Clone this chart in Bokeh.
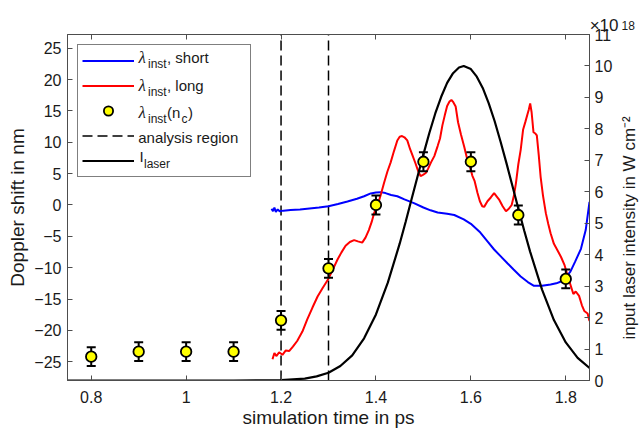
import math
from bokeh.plotting import figure
from bokeh.layouts import row
from bokeh.core.properties import value
from bokeh.models import (Range1d, LinearAxis, FixedTicker, Legend, LegendItem, Title,
                          NumeralTickFormatter, CustomJSTickFormatter)
from bokeh.embed import file_html
from bokeh.resources import INLINE

# ---------------- data ----------------
# lambda_inst, short (Doppler shift in nm)
t_short = [1.180, 1.183, 1.186, 1.189, 1.193, 1.197, 1.205, 1.220, 1.240, 1.260,
           1.280, 1.300, 1.320, 1.340, 1.360, 1.375, 1.389, 1.400, 1.410, 1.420,
           1.432, 1.445, 1.460, 1.480, 1.500, 1.515, 1.530, 1.550, 1.565, 1.585,
           1.600, 1.620, 1.635, 1.649, 1.663, 1.677, 1.690, 1.705, 1.720, 1.733,
           1.750, 1.768, 1.780, 1.790, 1.800, 1.810, 1.820, 1.832, 1.842, 1.850]
shift_short = [-0.6, -1.0, -0.4, -1.1, -0.7, -1.0, -0.9, -0.8, -0.7, -0.55,
               -0.4, -0.2, 0.15, 0.55, 1.0, 1.4, 1.85, 2.0, 2.05, 1.9,
               1.6, 1.4, 0.9, 0.3, -0.4, -0.85, -1.2, -1.4, -1.6, -2.3,
               -3.0, -4.4, -5.8, -7.1, -8.2, -9.3, -10.3, -11.4, -12.3, -12.9,
               -12.9, -12.7, -12.5, -12.2, -11.6, -10.6, -9.0, -7.0, -4.0, 0.5]

# lambda_inst, long (Doppler shift in nm)
t_long = [1.182, 1.186, 1.190, 1.196, 1.203, 1.210, 1.217, 1.225, 1.234, 1.245,
          1.255, 1.266, 1.277, 1.288, 1.299, 1.309, 1.319, 1.327, 1.336, 1.345,
          1.354, 1.362, 1.371, 1.378, 1.385, 1.391, 1.396, 1.403, 1.410, 1.417,
          1.424, 1.431, 1.438, 1.445, 1.450, 1.455, 1.460, 1.466, 1.472, 1.477,
          1.483, 1.489, 1.494, 1.499, 1.505, 1.510, 1.516, 1.523, 1.530, 1.535,
          1.540, 1.545, 1.550, 1.555, 1.559, 1.563, 1.568, 1.573, 1.579, 1.586,
          1.593, 1.598, 1.603, 1.608, 1.614, 1.619, 1.624, 1.628, 1.635, 1.642,
          1.649, 1.655, 1.660, 1.667, 1.674, 1.680, 1.686, 1.691, 1.695, 1.700,
          1.705, 1.710, 1.715, 1.719, 1.722, 1.725, 1.728, 1.732, 1.736, 1.739,
          1.743, 1.747, 1.752, 1.758, 1.763, 1.768, 1.775, 1.783, 1.790, 1.797,
          1.804, 1.811, 1.816, 1.821, 1.828, 1.834, 1.839, 1.846, 1.850]
shift_long = [-24.6, -23.6, -24.1, -23.5, -23.9, -23.2, -23.3, -22.6, -21.7, -20.2,
              -18.3, -16.4, -14.6, -13.2, -11.9, -10.3, -8.7, -7.6, -6.5, -5.9,
              -5.6, -5.8, -6.0, -5.2, -4.0, -2.7, -1.3, -0.2, 1.6, 3.5,
              5.3, 6.8, 8.6, 10.3, 10.9, 11.0, 10.8, 10.3, 8.9, 7.9,
              6.7, 5.4, 4.6, 4.8, 5.1, 5.8, 6.8, 7.8, 9.4, 10.6,
              12.7, 14.3, 15.8, 16.5, 16.75, 16.4, 15.7, 13.2, 11.3, 9.3,
              7.1, 6.2, 4.7, 3.8, 1.9, 0.6, -0.2, -0.3, 0.6, 1.2,
              1.9, 1.3, 0.8, -0.2, -1.0, -0.6, 0.0, 1.6, 3.5, 6.5,
              8.8, 12.0, 13.3, 14.4, 15.2, 16.2, 14.8, 11.6, 11.4, 11.1,
              8.0, 4.5, 1.5, -1.3, -3.0, -4.5, -6.2, -7.3, -8.3, -9.5,
              -11.3, -13.0, -14.2, -13.8, -14.5, -16.0, -16.9, -17.3, -18.5]

# lambda_inst(n_c) with error bars
t_nc = [0.8, 0.9, 1.0, 1.1, 1.2, 1.3, 1.4, 1.5, 1.6, 1.7, 1.8]
shift_nc = [-24.2, -23.4, -23.4, -23.4, -18.4, -10.1, 0.0, 6.9, 6.9, -1.6, -11.8]
err_nc = [1.5, 1.5, 1.5, 1.5, 1.5, 1.5, 1.5, 1.5, 1.5, 1.5, 1.5]

# analysis region boundaries (ps)
analysis_region = [1.2, 1.3]

# I_laser in units of 1e18 W cm^-2
t_laser = [0.75, 1.10, 1.15, 1.20, 1.25, 1.275, 1.30, 1.325, 1.35, 1.375,
           1.40, 1.425, 1.45, 1.4625, 1.475, 1.4875, 1.50, 1.5125, 1.525, 1.5375,
           1.55, 1.5625, 1.575, 1.585, 1.60, 1.6125, 1.625, 1.6375, 1.65, 1.6625,
           1.675, 1.6875, 1.70, 1.7125, 1.725, 1.75, 1.775, 1.80, 1.825, 1.85]
I_laser = [0.0, 0.0, 0.002, 0.012, 0.06, 0.13, 0.245, 0.46, 0.80, 1.34,
           2.10, 3.11, 4.35, 5.04, 5.76, 6.48, 7.19, 7.87, 8.49, 9.02,
           9.46, 9.77, 9.95, 10.0, 9.90, 9.66, 9.30, 8.82, 8.25, 7.60,
           6.91, 6.19, 5.47, 4.76, 4.09, 2.89, 1.92, 1.21, 0.72, 0.40]

x_ticks = [0.8, 1.0, 1.2, 1.4, 1.6, 1.8]
y_ticks = [-25, -20, -15, -10, -5, 0, 5, 10, 15, 20, 25]
y2_ticks = [0, 1, 2, 3, 4, 5, 6, 7, 8, 9, 10, 11]

X_RANGE = (0.75, 1.85)
Y_RANGE = (-28.0, 27.2)
Y2_RANGE = (0.0, 11.0)

# ---------------- layout ----------------
W, H = 639, 430
STRIP = 20                      # narrow strip on the right for the rotated label
W1 = W - STRIP
BL, BR, BT, BB = 67, W1 - 589, 34, 49
FL, FR, FT, FB = BL, W1 - BR, BT, H - BB

FONT = "Liberation Sans"
AXC = "#4d4d4d"
TXT = "#1a1a1a"


def px2x(px):
    return X_RANGE[0] + (px - FL) / (FR - FL) * (X_RANGE[1] - X_RANGE[0])


def py2y(py):
    return Y_RANGE[0] + (FB - py) / (FB - FT) * (Y_RANGE[1] - Y_RANGE[0])


p = figure(width=W1, height=H, x_range=Range1d(*X_RANGE), y_range=Range1d(*Y_RANGE),
           output_backend="svg", toolbar_location=None,
           min_border_left=BL, min_border_right=BR, min_border_top=BT, min_border_bottom=BB)
p.extra_y_ranges = {"laser": Range1d(*Y2_RANGE)}
p.grid.visible = False
p.outline_line_color = AXC
p.background_fill_color = "white"
p.border_fill_color = "white"

xa = p.xaxis[0]
ya = p.yaxis[0]
xa.ticker = FixedTicker(ticks=x_ticks)
xa.formatter = NumeralTickFormatter(format="0.[0]")
ya.ticker = FixedTicker(ticks=y_ticks)
xa.axis_label = "simulation time in ps"
ya.axis_label = "Doppler shift in nm"

ra = LinearAxis(y_range_name="laser", ticker=FixedTicker(ticks=y2_ticks))
p.add_layout(ra, "right")
ta = LinearAxis(ticker=FixedTicker(ticks=x_ticks),
                formatter=CustomJSTickFormatter(code="return ''"))
p.add_layout(ta, "above")

for ax in (xa, ya, ra, ta):
    ax.major_tick_in = 5
    ax.major_tick_out = 0
    ax.minor_tick_line_color = None
    ax.axis_line_color = AXC
    ax.major_tick_line_color = AXC
    ax.major_label_text_font = FONT
    ax.major_label_text_font_size = "16px"
    ax.major_label_text_color = TXT
    ax.axis_label_text_font = FONT
    ax.axis_label_text_font_size = "19px"
    ax.axis_label_text_font_style = "normal"
    ax.axis_label_text_color = TXT
xa.major_label_standoff = 10
xa.axis_label_standoff = 1
ya.major_label_standoff = 6
ya.axis_label_standoff = 3
ra.major_label_standoff = 5

# "x10" of the right-axis exponent
p.add_layout(Title(text="×10", align="right", offset=-(W1 - FR - 1), standoff=0,
                   text_font=FONT, text_font_size="17px", text_font_style="normal",
                   text_color=TXT), "above")

# ---------------- glyphs ----------------
r_region = p.segment(x0=analysis_region, y0=[Y_RANGE[0]] * len(analysis_region),
                     x1=analysis_region, y1=[Y_RANGE[1]] * len(analysis_region),
                     line_color="black", line_width=1.5, line_dash="10 5")
r_short = p.line(t_short, shift_short, line_color="#0000ff", line_width=2)
r_long = p.line(t_long, shift_long, line_color="#ff0000", line_width=2)
r_laser = p.line(t_laser, I_laser, y_range_name="laser", line_color="black", line_width=2.2)

lo_nc = [y - e for y, e in zip(shift_nc, err_nc)]
hi_nc = [y + e for y, e in zip(shift_nc, err_nc)]
p.segment(x0=t_nc, y0=lo_nc, x1=t_nc, y1=hi_nc, line_color="black", line_width=2)
p.scatter(t_nc, lo_nc, marker="dash", size=9, line_color="black", line_width=2)
p.scatter(t_nc, hi_nc, marker="dash", size=9, line_color="black", line_width=2)
r_nc = p.scatter(t_nc, shift_nc, marker="circle", size=10.5, fill_color="#ffff00",
                 line_color="black", line_width=1.8)


# ---------------- legend texts (rich text pieces) ----------------
def lab(px, py, text, size, font=FONT, style="normal"):
    p.text(x=[px2x(px)], y=[py2y(py)], text=[text], text_font=value(font),
           text_font_size=value(f"{size}px"), text_font_style=value(style),
           text_color=TXT, text_align="left", text_baseline="middle")


LAM_FONT = "Liberation Serif"
for yc, tail in ((57.5, ", short"), (85.0, ", long")):
    lab(138, yc, "λ", 17, font=LAM_FONT, style="italic")
    lab(147.5, yc + 6.5, "inst", 12)
    lab(166.5, yc, tail, 15)
lab(138, 112.5, "λ", 17, font=LAM_FONT, style="italic")
lab(147.5, 119.0, "inst", 12)
lab(166.5, 112.5, "(n", 15)
lab(181.0, 119.0, "c", 12)
lab(187.5, 112.5, ")", 15)
lab(137.7, 137.0, "analysis region", 15)
lab(139.0, 156.5, "I", 15)
lab(143.5, 163.5, "laser", 12)

# ---------------- legend ----------------
items = [LegendItem(label=" ", renderers=[r]) for r in (r_short, r_long, r_nc, r_region, r_laser)]
legend = Legend(items=items, location="top_left", margin=10, padding=4, spacing=2,
                glyph_height=23, glyph_width=52, label_height=23, label_width=107,
                label_standoff=5, label_text_font_size="6px",
                border_line_color="black", border_line_width=1,
                background_fill_alpha=0.0)
p.add_layout(legend)

# ---------------- right strip: exponent "18" and rotated axis label ----------------
# (the strip's frame is aligned with the main frame, i.e. it spans y = 34..381)
p2 = figure(width=STRIP, height=H, x_range=Range1d(0, STRIP), y_range=Range1d(FT, FB),
            output_backend="svg", toolbar_location=None,
            x_axis_location=None, y_axis_location=None, min_border=0)
p2.title = Title(text="18", align="left", offset=2, standoff=10,
                 text_font=FONT, text_font_size="12px", text_font_style="normal",
                 text_color=TXT)
p2.grid.visible = False
p2.outline_line_color = None
p2.background_fill_color = "white"
p2.border_fill_color = "white"
p2.text(x=[STRIP / 2], y=[FB + FT - 228], text=["input laser intensity in W cm⁻²"],
        text_font=value(FONT), text_font_size=value("17px"), text_color=TXT,
        text_align="center", text_baseline="middle", angle=math.pi / 2)

layout = row(p, p2, spacing=0)
open("out.html", "w").write(file_html(layout, INLINE))
